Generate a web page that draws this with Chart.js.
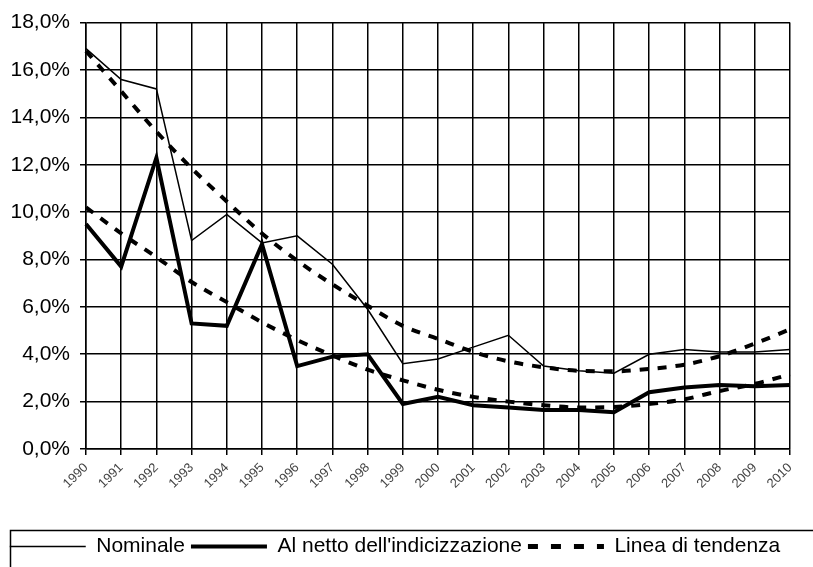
<!DOCTYPE html>
<html>
<head>
<meta charset="utf-8">
<script src="https://cdn.jsdelivr.net/npm/chart.js@4.4.1/dist/chart.umd.min.js"></script>
<style>
  html, body { margin: 0; padding: 0; background: #ffffff; }
  #wrap { width: 813px; height: 567px; }
</style>
</head>
<body>
<div id="wrap"><canvas id="c" width="813" height="567"></canvas></div>
<script>
const years = ['1990','1991','1992','1993','1994','1995','1996','1997','1998','1999','2000',
               '2001','2002','2003','2004','2005','2006','2007','2008','2009','2010'];
const nominale = [16.9, 15.6, 15.2, 8.8, 9.9, 8.7, 9.0, 7.8, 5.9, 3.6, 3.8,
                  4.3, 4.8, 3.5, 3.3, 3.2, 4.0, 4.2, 4.1, 4.1, 4.2];
const alNetto = [9.5, 7.7, 12.3, 5.3, 5.2, 8.65, 3.5, 3.9, 4.0, 1.9, 2.2,
                 1.85, 1.75, 1.65, 1.65, 1.55, 2.4, 2.6, 2.7, 2.65, 2.7];
const tendenzaNominale = [16.8, 15.1, 13.4, 11.85, 10.45, 9.1, 7.95, 6.95, 6.05, 5.2, 4.65,
                          4.1, 3.7, 3.45, 3.3, 3.28, 3.38, 3.56, 3.92, 4.45, 5.05];
const tendenzaNetto = [10.2, 9.1, 8.1, 7.05, 6.2, 5.35, 4.6, 3.95, 3.35, 2.9, 2.5,
                       2.2, 2.0, 1.85, 1.75, 1.77, 1.9, 2.1, 2.45, 2.75, 3.15];
const yTicks = [0, 2, 4, 6, 8, 10, 12, 14, 16, 18];

const FONT = '"Liberation Sans", Arial, sans-serif';

const legendBorder = {
  id: 'legendBorder',
  afterDraw(chart) {
    const lg = chart.legend;
    if (!lg) return;
    const ctx = chart.ctx;
    ctx.save();
    ctx.strokeStyle = '#000';
    ctx.lineWidth = 1.5;
    ctx.strokeRect(lg.left + 10.5, lg.top + 0.5, lg.width + 40, lg.height + 40);
    ctx.restore();
  }
};

new Chart(document.getElementById('c'), {
  type: 'line',
  data: {
    labels: years,
    datasets: [
      { label: 'Nominale', data: nominale, borderColor: '#000', borderWidth: 1.5,
        pointRadius: 0, tension: 0, pointStyle: 'line' },
      { label: "Al netto dell'indicizzazione", data: alNetto, borderColor: '#000', borderWidth: 4,
        pointRadius: 0, tension: 0, pointStyle: 'line' },
      { label: 'Linea di tendenza', data: tendenzaNominale, borderColor: '#000', borderWidth: 4,
        borderDash: [9, 9], pointRadius: 0, cubicInterpolationMode: 'monotone', pointStyle: 'line' },
      { label: 'Linea di tendenza 2', data: tendenzaNetto, borderColor: '#000', borderWidth: 4,
        borderDash: [9, 9], pointRadius: 0, cubicInterpolationMode: 'monotone', pointStyle: 'line' }
    ]
  },
  options: {
    responsive: false,
    animation: false,
    devicePixelRatio: 1,
    layout: { padding: { top: 18, right: 23, left: 0, bottom: 0 } },
    plugins: {
      tooltip: { enabled: false },
      legend: {
        position: 'bottom',
        labels: {
          usePointStyle: true,
          pointStyleWidth: 76,
          padding: 6,
          color: '#000',
          font: { family: FONT, size: 21 },
          generateLabels: (chart) => Chart.defaults.plugins.legend.labels.generateLabels(chart).map(l => {
            const ds = chart.data.datasets[l.datasetIndex];
            return Object.assign({}, l, {
              lineDash: ds.borderDash ? [10, 13] : [],
              lineWidth: ds.borderDash ? 5 : ds.borderWidth,
              lineCap: 'butt'
            });
          }),
          filter: (item) => item.datasetIndex !== 3
        }
      }
    },
    scales: {
      x: {
        offset: false,
        grid: { color: '#000', lineWidth: 1.5, tickLength: 6, offset: false },
        border: { color: '#000', width: 1.5 },
        ticks: {
          autoSkip: false, minRotation: 45, maxRotation: 45, padding: 5,
          color: '#444', font: { family: FONT, size: 13 }
        },
        afterFit: (scale) => { scale.height = 81; }
      },
      y: {
        min: 0, max: 18,
        afterBuildTicks: (scale) => { scale.ticks = yTicks.map(v => ({ value: v })); },
        grid: { color: '#000', lineWidth: 1.5, tickLength: 6 },
        border: { color: '#000', width: 1.5 },
        ticks: {
          padding: 10, color: '#000', font: { family: FONT, size: 21 },
          callback: (v) => v.toFixed(1).replace('.', ',') + '%'
        },
        afterFit: (scale) => { scale.width = 86; }
      }
    }
  },
  plugins: [legendBorder]
});
</script>
</body>
</html>
